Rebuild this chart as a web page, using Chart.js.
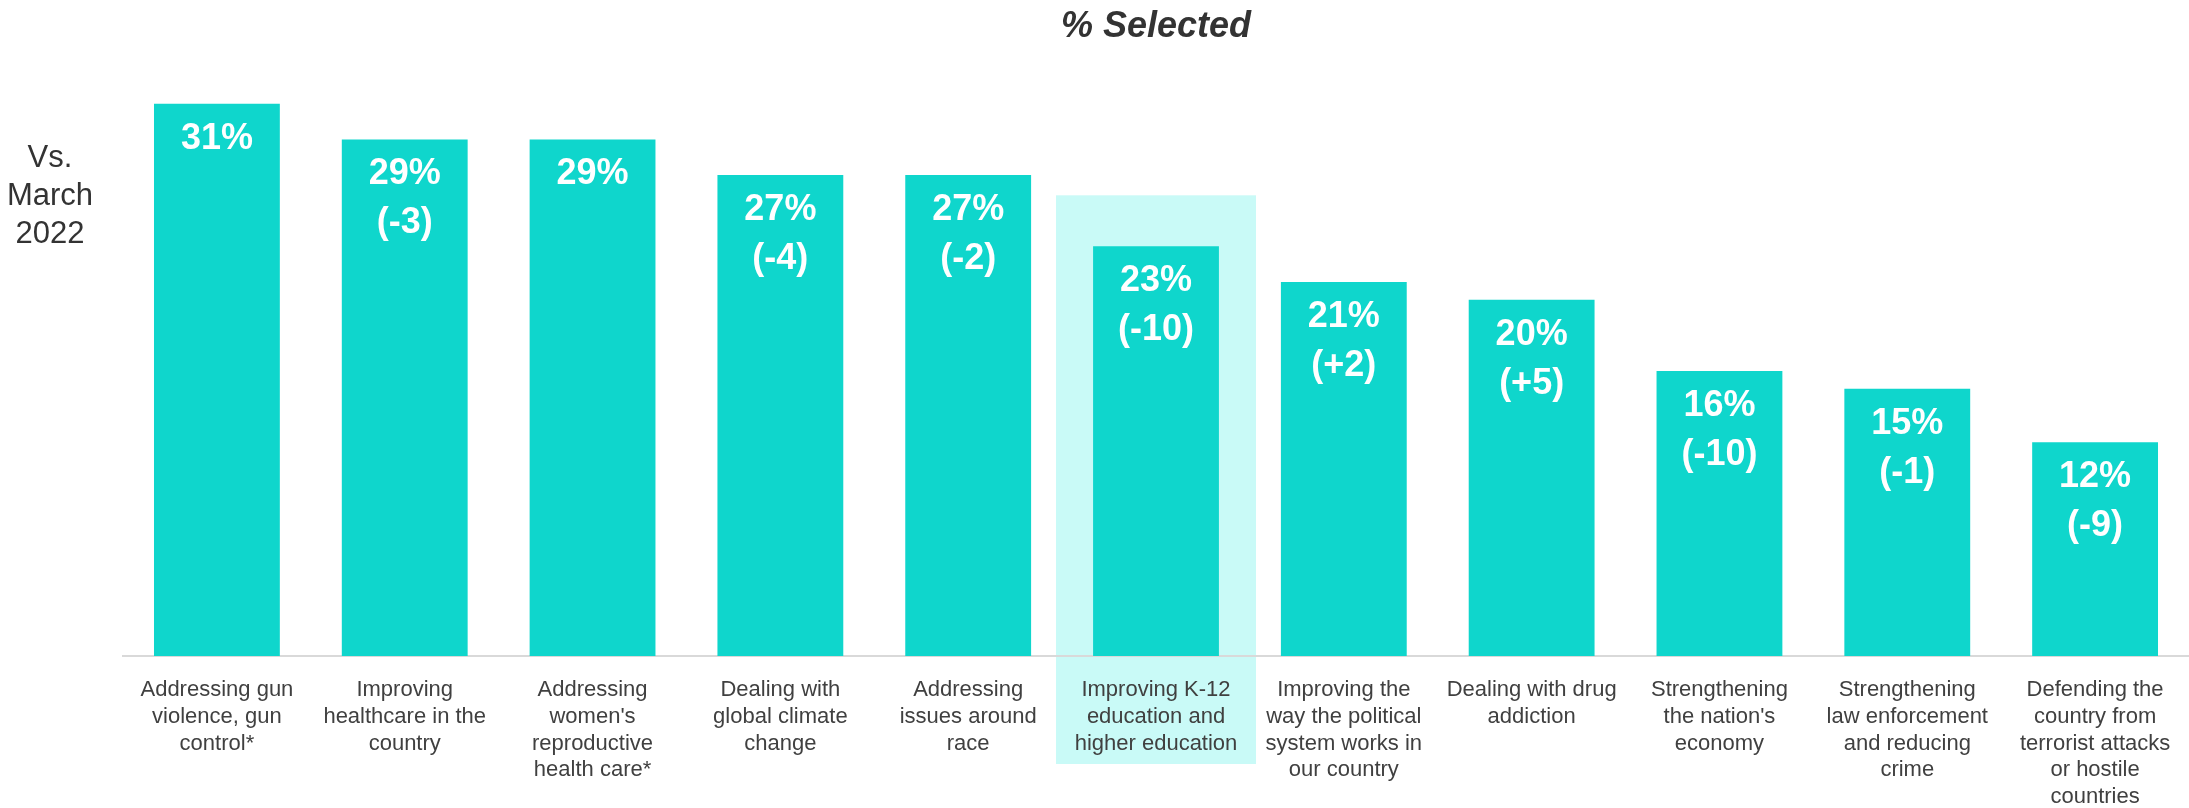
<!DOCTYPE html>
<html>
<head>
<meta charset="utf-8">
<script src="https://cdn.jsdelivr.net/npm/chart.js@4"></script>
<style>
  html, body { margin: 0; padding: 0; background: #fff; }
  #wrap { width: 2189px; height: 808px; position: relative; }
</style>
</head>
<body>
<div id="wrap"><canvas id="issueChart"></canvas></div>
<script>
// categories (multi-line x labels)
const categories = [
    ['Addressing gun', 'violence, gun', 'control*'],
    ['Improving', 'healthcare in the', 'country'],
    ['Addressing', "women's", 'reproductive', 'health care*'],
    ['Dealing with', 'global climate', 'change'],
    ['Addressing', 'issues around', 'race'],
    ['Improving K-12', 'education and', 'higher education'],
    ['Improving the', 'way the political', 'system works in', 'our country'],
    ['Dealing with drug', 'addiction'],
    ['Strengthening', "the nation's", 'economy'],
    ['Strengthening', 'law enforcement', 'and reducing', 'crime'],
    ['Defending the', 'country from', 'terrorist attacks', 'or hostile', 'countries']
];
// % selected
const selected = [31, 29, 29, 27, 27, 23, 21, 20, 16, 15, 12];
// change vs. March 2022 (null = no comparison)
const changeVsMarch = [null, -3, null, -4, -2, -10, 2, 5, -10, -1, -9];
const highlightIndex = 5;

const FONT = '"Liberation Sans", Arial, sans-serif';
const BAR_COLOR = '#0FD6CC';
const HL_COLOR = '#C9FAF7';

// light box behind the highlighted category
const highlightBox = {
    id: 'highlightBox',
    beforeDraw(chart) {
        const { ctx, chartArea, scales: { x, y } } = chart;
        const cx = x.getPixelForValue(highlightIndex);
        const top = y.getPixelForValue(selected[highlightIndex]) - 51;
        const bottom = chartArea.bottom + 108;
        ctx.save();
        ctx.fillStyle = HL_COLOR;
        ctx.fillRect(cx - 100, top, 200, bottom - top);
        ctx.restore();
    }
};

// value + change labels inside the bars
const barLabels = {
    id: 'barLabels',
    afterDatasetsDraw(chart) {
        const { ctx } = chart;
        const meta = chart.getDatasetMeta(0);
        ctx.save();
        ctx.fillStyle = '#fff';
        ctx.textAlign = 'center';
        ctx.textBaseline = 'middle';
        ctx.font = 'bold 36px ' + FONT;
        meta.data.forEach((bar, i) => {
            ctx.fillText(selected[i] + '%', bar.x, bar.y + 35);
            const c = changeVsMarch[i];
            if (c !== null) {
                ctx.fillText('(' + (c > 0 ? '+' : '') + c + ')', bar.x, bar.y + 84);
            }
        });
        ctx.restore();
    }
};

// "Vs. March 2022" note on the left
const sideNote = {
    id: 'sideNote',
    afterDraw(chart) {
        const { ctx } = chart;
        ctx.save();
        ctx.fillStyle = '#333';
        ctx.textAlign = 'center';
        ctx.textBaseline = 'middle';
        ctx.font = '31px ' + FONT;
        ['Vs.', 'March', '2022'].forEach((t, i) => ctx.fillText(t, 50, 158 + i * 38));
        ctx.restore();
    }
};

new Chart(document.getElementById('issueChart'), {
    type: 'bar',
    data: {
        labels: categories,
        datasets: [{
            data: selected,
            backgroundColor: BAR_COLOR,
            borderWidth: 0,
            categoryPercentage: 1,
            barPercentage: 0.67
        }]
    },
    options: {
        responsive: true,
        maintainAspectRatio: false,
        animation: false,
        layout: { padding: { left: 123, right: 0, top: 0, bottom: 0 } },
        plugins: {
            legend: { display: false },
            tooltip: { enabled: false },
            title: {
                display: true,
                text: '% Selected',
                color: '#333',
                font: { family: FONT, size: 36, weight: 'bold', style: 'italic', lineHeight: 1.2 },
                padding: { top: 5, bottom: 20 }
            }
        },
        scales: {
            x: {
                grid: { display: false },
                border: { display: true, color: '#D9D9D9', width: 2 },
                ticks: {
                    color: '#404040',
                    font: { family: FONT, size: 22, lineHeight: 1.21 },
                    padding: 13,
                    maxRotation: 0,
                    autoSkip: false
                },
                afterFit: s => { s.height = 152; }
            },
            y: {
                display: false,
                min: 0,
                max: 33
            }
        }
    },
    plugins: [highlightBox, barLabels, sideNote]
});
</script>
</body>
</html>
